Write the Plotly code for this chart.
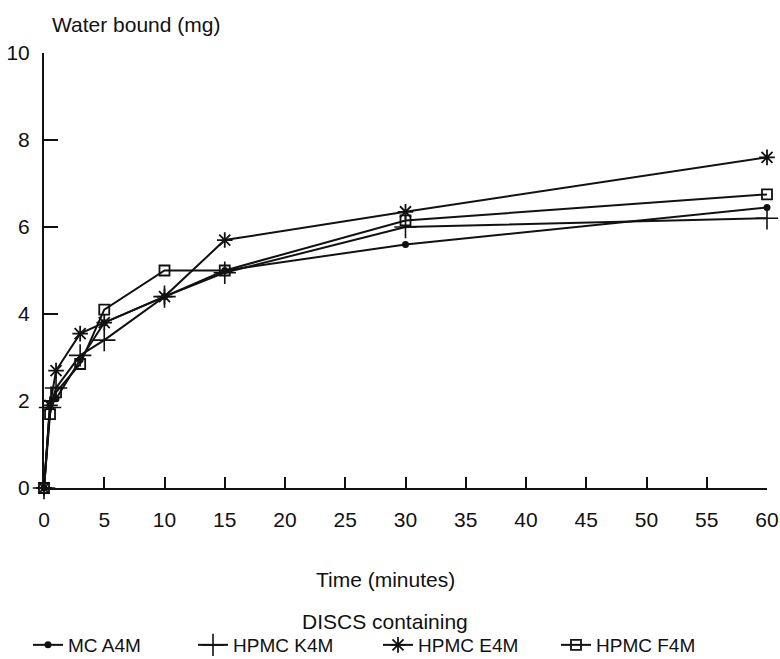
import plotly.graph_objects as go

time_min = [0, 0.5, 1, 3, 5, 10, 15, 30, 60]
mc_a4m = [0, 1.9, 2.05, 2.95, 3.8, 4.4, 5.0, 5.6, 6.45]
hpmc_k4m = [0, 1.85, 2.3, 3.05, 3.4, 4.4, 4.95, 6.0, 6.2]
hpmc_e4m = [0, 1.9, 2.7, 3.55, 3.8, 4.4, 5.7, 6.35, 7.6]
hpmc_f4m = [0, 1.7, 2.2, 2.85, 4.1, 5.0, 5.0, 6.15, 6.75]

x_ticks = list(range(0, 61, 5))
y_ticks = list(range(0, 11, 2))

FONT = "Liberation Sans, Arial, sans-serif"
black = "#111111"

W, H = 780, 659
L, T = 44, 53
R = W - 767
B = H - 488
PW, PH = W - L - R, H - T - B


def px(xp):
    return (xp - L) / PW


def py(yp):
    return (H - B - yp) / PH


# drawing order: squares and crosses underneath, stars on top
series = [
    ("HPMC F4M", hpmc_f4m, dict(symbol="square-open", size=10, color=black, line=dict(width=1.8, color=black)), "legend4", 556),
    ("HPMC K4M", hpmc_k4m, dict(symbol="cross-thin-open", size=16, color=black, line=dict(width=1.6, color=black)), "legend2", 193),
    ("MC A4M", mc_a4m, dict(symbol="circle", size=7, color=black), "legend", 28),
    ("HPMC E4M", hpmc_e4m, dict(symbol="asterisk-open", size=13, color=black, line=dict(width=1.8, color=black)), "legend3", 378),
]

fig = go.Figure()
legends = {}
for name, vals, mk, lg, lx in series:
    fig.add_trace(go.Scatter(
        x=time_min, y=vals, name=name, mode="lines+markers",
        line=dict(color=black, width=2), marker=mk, legend=lg, cliponaxis=False,
    ))
    legends[lg] = dict(
        x=px(lx), xanchor="left", y=py(645), yanchor="middle",
        font=dict(size=19), bgcolor="rgba(0,0,0,0)", borderwidth=0,
    )

fig.update_layout(
    width=W, height=H,
    margin=dict(l=L, r=R, t=T, b=B, autoexpand=False),
    paper_bgcolor="white", plot_bgcolor="white",
    font=dict(family=FONT, size=21, color="#111111"),
    showlegend=True,
    xaxis=dict(
        range=[0, 60], tickvals=x_ticks, ticktext=[str(v) for v in x_ticks],
        ticks="inside", ticklen=11, tickwidth=1.5, tickcolor=black,
        showline=True, linecolor=black, linewidth=2, showgrid=False, zeroline=False,
        ticklabelstandoff=12, automargin=False, ticklabeloverflow="allow",
    ),
    yaxis=dict(
        range=[0, 10], tickvals=y_ticks, ticktext=[str(v) for v in y_ticks],
        ticks="inside", ticklen=14, tickwidth=1.5, tickcolor=black,
        showline=True, linecolor=black, linewidth=2, showgrid=False, zeroline=False,
        ticklabelstandoff=8, automargin=False, ticklabeloverflow="allow",
    ),
    annotations=[
        dict(text="Water bound (mg)", xref="paper", yref="paper", x=px(50), y=py(25),
             xanchor="left", yanchor="middle", showarrow=False, font=dict(size=21)),
        dict(text="Time (minutes)", xref="paper", yref="paper", x=px(385), y=py(579),
             xanchor="center", yanchor="middle", showarrow=False, font=dict(size=21)),
        dict(text="DISCS containing", xref="paper", yref="paper", x=px(385), y=py(621),
             xanchor="center", yanchor="middle", showarrow=False, font=dict(size=21)),
    ],
    **legends,
)

fig.write_html(
    "out.html",
    config={"displayModeBar": False},
    post_script="document.body.style.margin='0';document.body.style.overflow='hidden';",
)
